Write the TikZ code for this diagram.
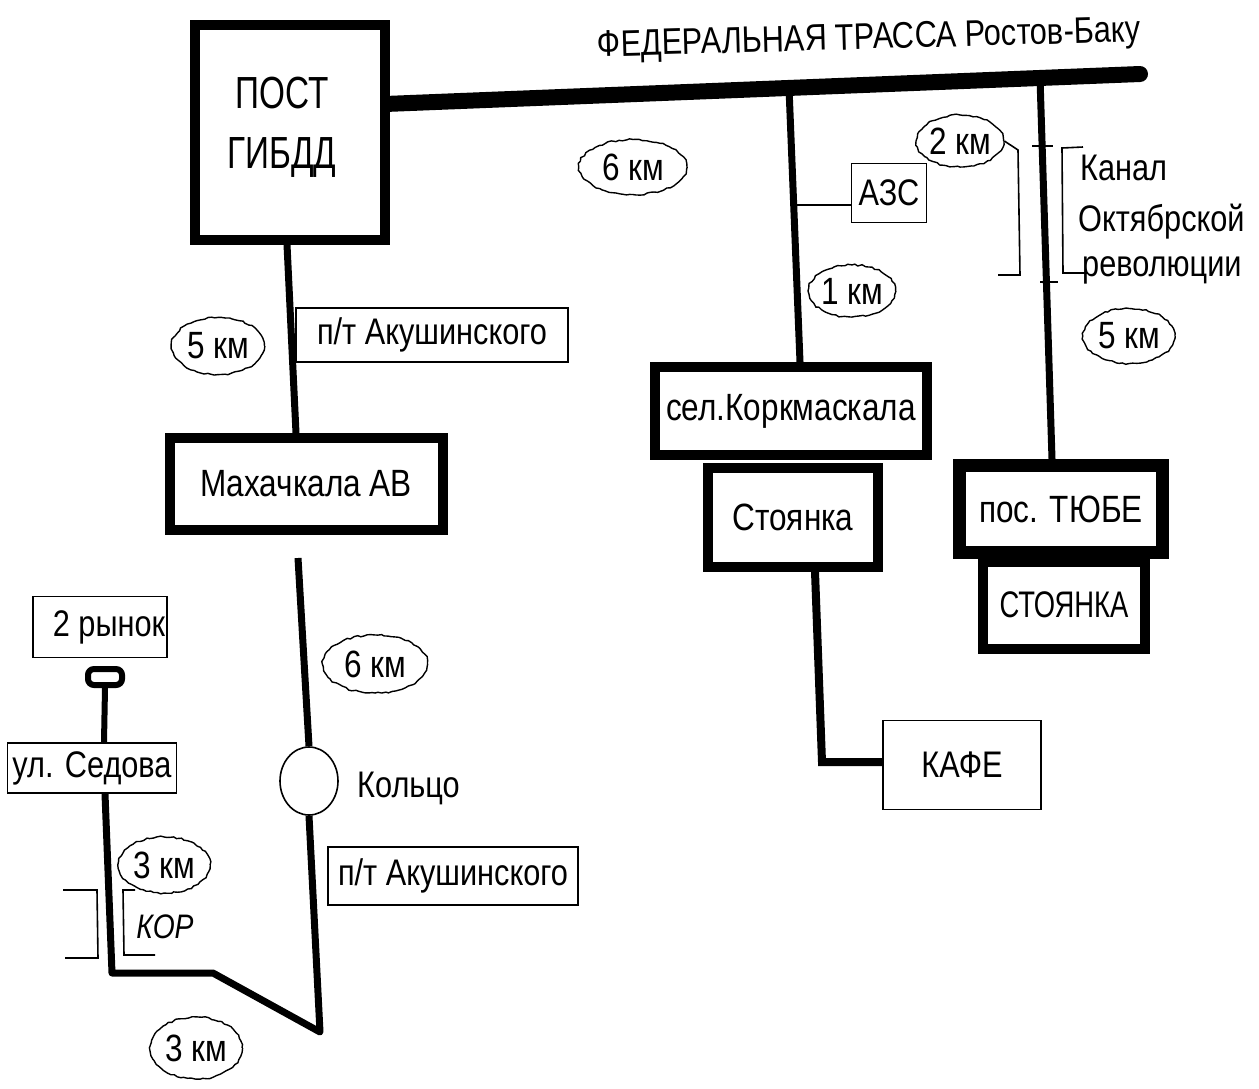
\documentclass[tikz,border=0pt]{standalone}
\usepackage{fontspec}
\setmainfont{Liberation Sans}[FakeStretch=0.83]
\newfontfamily\narrowf{Liberation Sans}[FakeStretch=0.74]
\usetikzlibrary{shapes.geometric,decorations.pathmorphing,backgrounds,calc}
\begin{document}
\begin{tikzpicture}[x=1pt,y=-1pt,
  thickbox/.style={draw, line width=10pt, fill=white, inner sep=0pt, font=\fontsize{38}{40}\selectfont},
  thinbox/.style={draw, line width=1.8pt, fill=white, inner sep=0pt, font=\fontsize{37}{40}\selectfont},
  oval/.style={draw, ellipse, line width=1.4pt, inner sep=0pt, font=\fontsize{38}{40}\selectfont,
     decorate, decoration={random steps, segment length=3.5pt, amplitude=0.9pt}},
  road/.style={line width=7pt, line join=round},
  fine/.style={line width=1.6pt},
  lbl/.style={inner sep=0pt, font=\fontsize{37}{40}\selectfont}
]
\pgfmathsetseed{7}
\useasboundingbox (0,0) rectangle (1259,1088);

% boxes
\node[thickbox, minimum width=190pt, minimum height=215pt] (post) at (290,132) {};
\node[lbl, align=center, font=\narrowf\fontsize{45}{60}\selectfont] (posttext) at (282,127) {ПОСТ\\ГИБДД};
\node[thickbox, minimum width=273pt, minimum height=92pt] (mah) at (306,484) {Махачкала АВ};
\node[thinbox, minimum width=272pt, minimum height=54pt] (ak1) at (432,335) {п/т Акушинского};
\node[thinbox, minimum width=250pt, minimum height=58pt] (ak2) at (453,876) {п/т Акушинского};
\node[thickbox, minimum width=272pt, minimum height=88pt] (kork) at (791,411) {сел.Коркмаскала};
\node[thickbox, minimum width=170pt, minimum height=99pt] (stoy) at (793,517) {Стоянка};
\node[thickbox, line width=13pt, minimum width=203pt, minimum height=87pt] (tube) at (1061,509) {пос. ТЮБЕ};
\node[thickbox, minimum width=162pt, minimum height=87pt, font=\narrowf\fontsize{37}{40}\selectfont] (stoy2) at (1064,605) {СТОЯНКА};
\node[thinbox, minimum width=75pt, minimum height=59pt] (azs) at (889,193) {АЗС};
\node[thinbox, minimum width=158pt, minimum height=89pt] (kafe) at (962,765) {КАФЕ};
\node[thinbox, minimum width=169pt, minimum height=50pt] (sedova) at (92,768) {ул. Седова};
\node[thinbox, minimum width=134pt, minimum height=61pt] (rynok) at (100,627) {\hspace*{18pt}2 рынок};
\node[draw, rounded corners=6pt, line width=6pt, fill=white, minimum width=34pt, minimum height=16pt, inner sep=0pt] (pill) at (105,677) {};

% ovals
\node[oval, minimum width=108pt, minimum height=55pt] (e6a) at (633,167) {6 км};
\node[oval, minimum width=85pt, minimum height=52pt] (e2) at (960,141) {2 км};
\node[oval, minimum width=85pt, minimum height=52pt] (e1) at (852,291) {1 км};
\node[oval, minimum width=92pt, minimum height=55pt] (e5r) at (1129,336) {5 км};
\node[oval, minimum width=93pt, minimum height=57pt] (e5l) at (218,346) {5 км};
\node[oval, minimum width=105pt, minimum height=58pt] (e6b) at (375,664) {6 км};
\node[oval, minimum width=92pt, minimum height=56pt] (e3a) at (164,865) {3 км};
\node[oval, minimum width=92pt, minimum height=62pt] (e3b) at (196,1048) {3 км};
\node[draw, ellipse, line width=1.6pt, minimum width=58pt, minimum height=68pt, inner sep=0pt] (ring) at (309,781) {};

% labels
\node[lbl, rotate=1.6] (title) at (869,40) {ФЕДЕРАЛЬНАЯ ТРАССА Ростов-Баку};
\node[lbl, anchor=west] (kanal1) at (1080,168) {Канал};
\node[lbl, anchor=west] (kanal2) at (1078,222) {Октябрской};
\node[lbl, anchor=west] (kanal3) at (1082,270) {революции};
\node[lbl, anchor=west] (koltso) at (357,788) {Кольцо};
\node[lbl, font=\fontsize{34}{40}\selectfont\itshape] (kor) at (165,927) {КОР};

% coordinates
\coordinate (hwL) at (385,104);
\coordinate (hwR) at (1140,74);
\coordinate (j1) at (789,88);
\coordinate (j2) at (1040,78);
\coordinate (jazs) at (794,205);
\coordinate (bend1) at (320,1032);
\coordinate (bend2) at (213,973);
\coordinate (bend3) at (112,973);
\coordinate (kbend) at (822,762);

\begin{scope}[on background layer]
  \draw[line width=16pt, line cap=round] (hwL) -- (hwR);
  \draw[road] (j1) -- ($(kork.north)+(9,0)$);
  \draw[road] (j2) -- ($(tube.north)+(-9,0)$);
  \draw[road] ($(post.south)+(-3,0)$) -- ($(mah.north)+(-10,0)$);
  \draw[road] ($(mah.south)+(-8,23)$) -- (ring.north);
  \draw[road] (ring.south) -- (bend1) -- (bend2) -- (bend3) -- ($(sedova.south)+(13,0)$);
  \draw[line width=6pt] (pill.south) -- ($(sedova.north)+(12,0)$);
  \draw[line width=8pt, line join=miter] ($(stoy.south)+(22,0)$) -- (kbend) -- (kafe.west |- kbend);
\end{scope}

% thin connectors and brackets
\draw[fine] (jazs) -- (azs.west |- jazs);
\draw[fine] (e2.east) -- (1018,150) -- (1020,275) -- (998,275);
\draw[fine] (1032,146) -- (1053,146);
\draw[fine] (1040,282) -- (1058,282);
\draw[fine] (1083,147) -- (1062,148) -- (1063,273) -- (1088,273);
\draw[fine] (63,890) -- (97,890) -- (98,958) -- (65,958);
\draw[fine] (135,890) -- (123,890) -- (124,955) -- (155,955);
\end{tikzpicture}
\end{document}
